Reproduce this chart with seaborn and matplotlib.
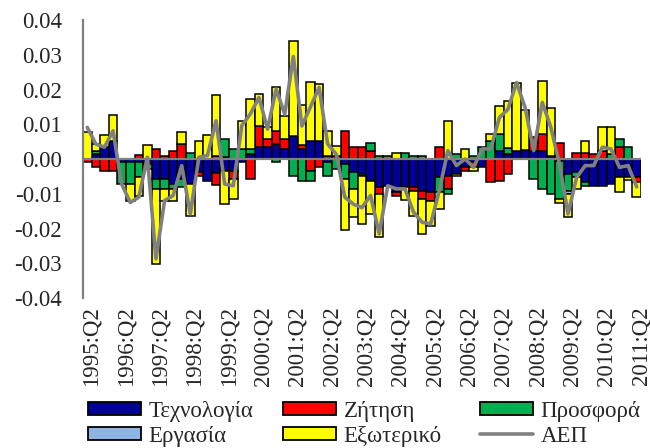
import numpy as np
import pandas as pd
import seaborn as sns
import matplotlib
matplotlib.use("Agg")
import matplotlib.pyplot as plt
import matplotlib.transforms as mtransforms
from matplotlib.patches import Patch
from matplotlib.lines import Line2D

# ---------------- data ----------------
quarters = ["1995:Q2", "1995:Q3", "1995:Q4"]
for y in range(1996, 2011):
    quarters += [f"{y}:Q1", f"{y}:Q2", f"{y}:Q3", f"{y}:Q4"]
quarters += ["2011:Q1", "2011:Q2"]

tech = [0.0, 0.0014, 0.0034, 0.0053, -0.0008, -0.0010, -0.0010, -0.0015, -0.0057, -0.0057,
        -0.0072, -0.0057, -0.0072, -0.0038, -0.0062, -0.0040, -0.0034, -0.0034, -0.0010, 0.0014,
        0.0034, 0.0034, 0.0043, 0.0029, 0.0067, 0.0030, 0.0053, 0.0053, -0.0010, 0.0,
        -0.0014, -0.0038, -0.0043, -0.0062, -0.0081, -0.0077, -0.0096, -0.0081, -0.0081, -0.0091,
        -0.0096, -0.0053, -0.0048, -0.0043, -0.0024, -0.0010, -0.0024, 0.0, 0.0024, 0.0014,
        0.0024, 0.0027, 0.0024, 0.0024, 0.0010, -0.0005, -0.0043, -0.0038, -0.0067, -0.0077,
        -0.0077, -0.0072, -0.0053, -0.0053, -0.0053]
demand = [-0.0010, -0.0022, -0.0034, -0.0034, 0.0, 0.0, 0.0012, 0.0, 0.0029, 0.0010,
          0.0024, 0.0043, 0.0, -0.0010, 0.0, -0.0034, 0.0005, -0.0024, 0.0, -0.0057,
          0.0062, 0.0024, 0.0038, 0.0029, 0.0, 0.0010, -0.0034, -0.0024, 0.0010, 0.0008,
          0.0081, 0.0034, 0.0034, 0.0024, -0.0019, 0.0, -0.0010, 0.0, -0.0010, -0.0024,
          -0.0024, 0.0034, -0.0038, 0.0, -0.0010, -0.0014, 0.0, -0.0067, -0.0062, -0.0043,
          0.0, 0.0, 0.0038, 0.0048, 0.0, 0.0045, 0.0, 0.0016, 0.0016, 0.0014,
          0.0024, 0.0, 0.0034, 0.0, -0.0014]
supply = [0.0, 0.0010, 0.0, 0.0, -0.0064, -0.0062, -0.0043, -0.0015, -0.0029, -0.0029,
          -0.0014, -0.0024, 0.0016, 0.0, 0.0, 0.0010, 0.0052, 0.0029, 0.0030, 0.0014,
          0.0, 0.0, -0.0010, 0.0, -0.0050, -0.0062, -0.0029, 0.0, -0.0038, -0.0029,
          -0.0043, -0.0048, -0.0005, 0.0021, 0.0010, 0.0010, 0.0, 0.0016, 0.0010, 0.0010,
          0.0, -0.0043, -0.0014, 0.0014, 0.0, 0.0010, 0.0035, 0.0053, 0.0048, 0.0019,
          0.0, 0.0, -0.0057, -0.0086, -0.0100, -0.0110, -0.0048, -0.0014, -0.0010, 0.0,
          0.0, 0.0014, 0.0024, 0.0034, 0.0]
labour = [0.0] * 56 + [-0.0010] + [0.0] * 8
external = [0.0077, 0.0019, 0.0035, 0.0074, 0.0, -0.0048, -0.0053, 0.0040, -0.0216, -0.0034,
            -0.0034, 0.0034, -0.0091, 0.0053, 0.0069, 0.0175, -0.0096, -0.0057, 0.0080, 0.0144,
            0.0091, 0.0033, 0.0125, 0.0067, 0.0273, 0.0115, 0.0170, 0.0164, 0.0071, 0.0030,
            -0.0148, -0.0081, -0.0139, -0.0096, -0.0125, 0.0, 0.0016, -0.0038, -0.0072, -0.0101,
            -0.0072, -0.0048, 0.0110, -0.0007, 0.0029, -0.0010, 0.0, 0.0020, 0.0081, 0.0134,
            0.0196, 0.0114, 0.0, 0.0153, 0.0138, -0.0012, -0.0067, -0.0034, 0.0036, 0.0,
            0.0069, 0.0079, -0.0043, -0.0008, -0.0043]
gdp = [0.0091, 0.0043, 0.0034, 0.0081, -0.0072, -0.0125, -0.0110, 0.0005, -0.0287, -0.0120,
       -0.0105, -0.0019, -0.0158, 0.0005, 0.0010, 0.0110, -0.0072, -0.0077, 0.0096, 0.0130,
       0.0177, 0.0086, 0.0201, 0.0129, 0.0295, 0.0095, 0.0150, 0.0206, 0.0043, 0.0014,
       -0.0110, -0.0130, -0.0140, -0.0105, -0.0215, -0.0077, -0.0086, -0.0086, -0.0153, -0.0182,
       -0.0187, -0.0091, 0.0024, -0.0019, 0.0, -0.0024, 0.0029, 0.0029, 0.0119, 0.0143,
       0.0220, 0.0148, 0.0024, 0.0163, 0.0091, -0.0014, -0.0158, -0.0053, -0.0019, -0.0019,
       0.0034, 0.0029, -0.0024, -0.0019, -0.0080]

series_names = ["Τεχνολογία", "Ζήτηση", "Προσφορά", "Εργασία", "Εξωτερικό"]
series_vals = [tech, demand, supply, labour, external]
series_cols = ["#000099", "#FF0000", "#00B050", "#8DB4E2", "#FFFF00"]
gdp_name = "ΑΕΠ"
gdp_col = "#808080"

# ---------------- style ----------------
sns.set_theme(style="white")
plt.rcParams["font.family"] = ["Liberation Serif", "DejaVu Serif"]
FS = 16.5

fig = plt.figure(figsize=(6.5, 4.48), dpi=100)
ax = fig.add_axes([83 / 650, 1 - 298 / 448, (641 - 83) / 650, (298 - 20) / 448])

n = len(quarters)
x = np.arange(n)
pos_base = np.zeros(n)
neg_base = np.zeros(n)
for name, vals, col in zip(series_names, series_vals, series_cols):
    v = np.asarray(vals, dtype=float)
    bottoms = np.where(v >= 0, pos_base, neg_base)
    mask = v != 0
    ax.bar(x[mask], v[mask], bottom=bottoms[mask], width=1.0, color=col,
           edgecolor="black", linewidth=1.1, zorder=2)
    pos_base = pos_base + np.where(v > 0, v, 0)
    neg_base = neg_base + np.where(v < 0, v, 0)

df = pd.DataFrame({"q": x, "gdp": gdp})
sns.lineplot(data=df, x="q", y="gdp", ax=ax, color=gdp_col, linewidth=2.6, zorder=4)

ax.axhline(0, color="#808080", linewidth=1.6, zorder=3)

ax.set_xlim(-0.5, n - 0.5)
ax.set_ylim(-0.04, 0.04)
yt = np.arange(-0.04, 0.0401, 0.01)
ax.set_yticks(yt)
ax.set_yticklabels([f"{t:.2f}" for t in yt], fontsize=FS)
ax.set_xticks(x[::4])
ax.set_xticklabels(quarters[::4], rotation=90, fontsize=FS, va="top")
ax.tick_params(axis="y", length=0, pad=15)
ax.tick_params(axis="x", length=0, pad=6)
off = mtransforms.ScaledTranslation(4 / 100, 0, fig.dpi_scale_trans)
for lab in ax.get_xticklabels():
    lab.set_transform(lab.get_transform() + off)
ax.set_xlabel("")
ax.set_ylabel("")
for s in ["top", "right", "bottom"]:
    ax.spines[s].set_visible(False)
ax.spines["left"].set_color("#808080")
ax.spines["left"].set_linewidth(1.6)
ax.grid(False)

# ---------------- legend (2 rows x 3 columns) ----------------
handles = [Patch(facecolor=c, edgecolor="black", linewidth=1.3) for c in series_cols]
handles.append(Line2D([0], [0], color=gdp_col, linewidth=2.6))
labels = series_names + [gdp_name]
col_x = [88, 283, 480]
row_y = [411, 436]
for k, (h, lab) in enumerate(zip(handles, labels)):
    r, c = divmod(k, 3)
    fig.legend([h], [lab], loc="center left",
               bbox_to_anchor=(col_x[c] / 650, 1 - row_y[r] / 448),
               frameon=False, fontsize=FS, handlelength=2.3, handleheight=0.5,
               handletextpad=0.35, borderpad=0, borderaxespad=0)

fig.savefig("out.png", dpi=100)
